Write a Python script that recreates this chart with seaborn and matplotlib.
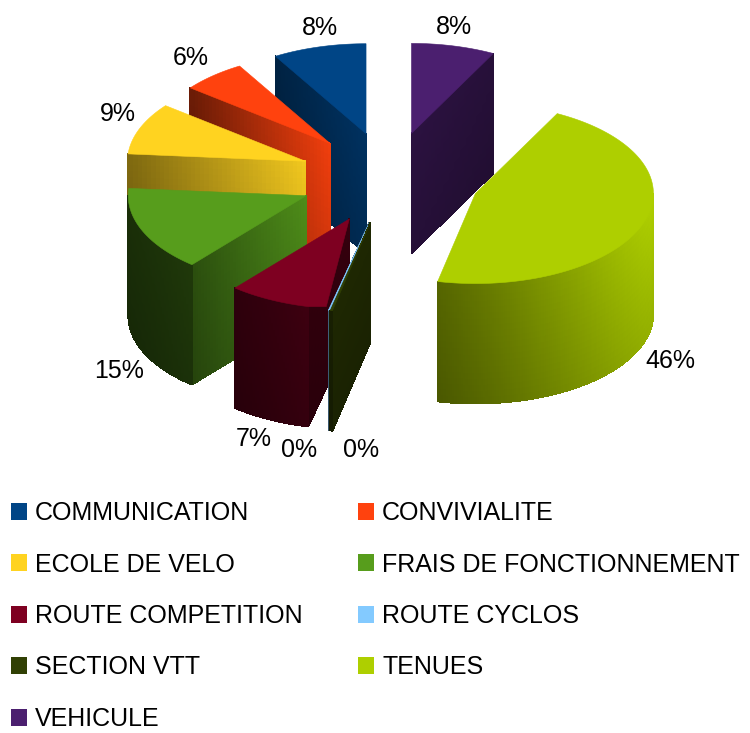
import numpy as np
import seaborn as sns
import matplotlib
matplotlib.use("Agg")
import matplotlib.pyplot as plt
from matplotlib.collections import PolyCollection
from matplotlib.patches import Patch

categories = ["COMMUNICATION", "CONVIVIALITE", "ECOLE DE VELO", "FRAIS DE FONCTIONNEMENT",
              "ROUTE COMPETITION", "ROUTE CYCLOS", "SECTION VTT", "TENUES", "VEHICULE"]
shares = [8.5, 5.9, 9.3, 15.2, 7.4, 0.1, 0.2, 45.8, 7.6]
pct_labels = ["8%", "6%", "9%", "15%", "7%", "0%", "0%", "46%", "8%"]
colors = ["#004586", "#ff420e", "#ffd320", "#579d1c", "#7e0021",
          "#83caff", "#314004", "#aecf00", "#4b1f6f"]

# layout, in pixels of the output
side_shade = [(.72, .5), (.95, .42), (.95, .5), (.9, .5), (.42, .38),
              (.5, .5), (.62, .62), (1, 1), (.58, .52)]
label_pos = [(320, 28), (191, 58), (118, 114), (119, 371), (254, 439),
             (299, 450), (361, 450), (670, 361), (454, 27)]
draw_order = [0, 8, 1, 2, 3, 7, 4, 5, 6]
legend_order = [0, 2, 4, 6, 8, 1, 3, 5, 7]
cx, cy = 390, 178
rx, ry = 178, 90
explode = 0.51
depth = 120
comp_glint = 18

sns.set_theme(style="white")
plt.rcParams['font.family'] = ['Liberation Sans', 'DejaVu Sans']

fig = plt.figure(figsize=(7.5, 7.33), dpi=100)
ax = fig.add_axes([0, 0, 1, 1])
ax.set_xlim(0, 750)
ax.set_ylim(733, 0)
ax.axis("off")

palette = sns.color_palette(colors)
edges = np.cumsum([0] + shares) / sum(shares) * 2 * np.pi


def arc_xy(ang, apex):
    return apex[0] - rx * np.sin(ang), apex[1] - ry * np.cos(ang)


def shaded_quads(p0, p1, f0, f1, col, steps=40, vsteps=20, fade=.14):
    # wall going from p0 to p1 along the top edge, hanging down by depth
    polys, cols = [], []
    for i in range(steps):
        t0, t1 = i / steps, (i + 1) / steps
        xa, ya = p0[0] + (p1[0] - p0[0]) * t0, p0[1] + (p1[1] - p0[1]) * t0
        xb, yb = p0[0] + (p1[0] - p0[0]) * t1, p0[1] + (p1[1] - p0[1]) * t1
        f = f0 + (f1 - f0) * (t0 + t1) / 2
        for j in range(vsteps):
            z0, z1 = depth * j / vsteps, depth * (j + 1) / vsteps
            polys.append([(xa, ya + z0), (xb, yb + z0), (xb, yb + z1), (xa, ya + z1)])
            cols.append(np.array(col) * f * (1 - fade * (j + .5) / vsteps))
    return polys, cols


def add_polys(polys, cols):
    ax.add_collection(PolyCollection(polys, facecolors=cols, edgecolors=cols, linewidths=.5,
                                     antialiaseds=False))


for i in draw_order:
    a0, a1 = edges[i], edges[i + 1]
    mid = (a0 + a1) / 2
    apex = (cx - explode * rx * np.sin(mid), cy - explode * ry * np.cos(mid))
    col = palette[i]

    # side faces, from the apex outwards
    for ang, seen in ((a0, np.sin(a0) < -1e-6), (a1, np.sin(a1) > 1e-6)):
        if seen:
            polys, cols = shaded_quads(apex, arc_xy(ang, apex), side_shade[i][0], side_shade[i][1], col)
            add_polys(polys, cols)

    # rounded outer wall, only the part turned to the viewer
    lo, hi = max(a0, np.pi / 2), min(a1, 1.5 * np.pi)
    if hi > lo:
        angs = np.linspace(lo, hi, int((hi - lo) * 80) + 2)
        polys, cols = [], []
        for k in range(len(angs) - 1):
            nx = -np.sin((angs[k] + angs[k + 1]) / 2)
            f = .3 + .7 * ((nx + 1) / 2) ** 1.4
            p, c = shaded_quads(arc_xy(angs[k], apex), arc_xy(angs[k + 1], apex), f, f, col, steps=1)
            polys += p
            cols += c
        add_polys(polys, cols)

    # top face
    angs = np.linspace(a0, a1, max(3, int((a1 - a0) * 40)))
    top = [apex] + [arc_xy(a, apex) for a in angs]
    if categories[i] == "ROUTE COMPETITION":
        # the reference keeps this corner in the bright top colour
        top.append((top[-1][0] + comp_glint, top[-1][1]))
    ax.fill(*zip(*top), color=col, lw=.4)

for txt, (x, y) in zip(pct_labels, label_pos):
    ax.text(x, y, txt, fontsize=18, color="black", ha="center", va="center")

handles = [Patch(facecolor=palette[i], edgecolor="none") for i in legend_order]
names = [categories[i] for i in legend_order]
ax.legend(handles, names, ncol=2, loc="upper left", bbox_to_anchor=(11 / 750, 1 - 501 / 733),
          bbox_transform=fig.transFigure, frameon=False, fontsize=18, borderpad=0, borderaxespad=0,
          handlelength=.65, handleheight=.65, handletextpad=.32, columnspacing=2.2, labelspacing=1.1,
          labelcolor="black")

fig.savefig("out.png", dpi=100)
